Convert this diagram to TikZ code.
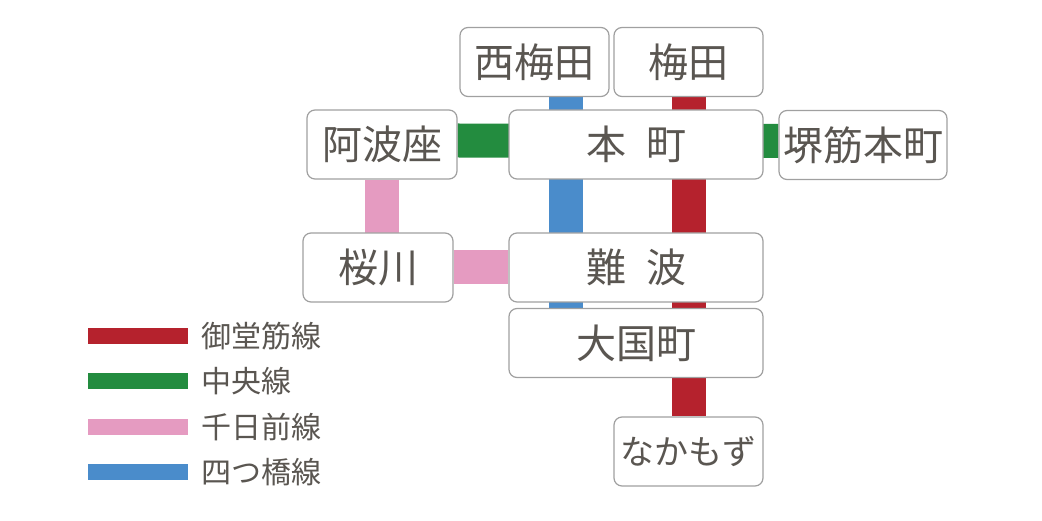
\documentclass[tikz,border=0pt]{standalone}
\usepackage{fontspec}
\newfontfamily\jpfont{Noto Sans CJK JP}
\usetikzlibrary{positioning,backgrounds}
\definecolor{midosuji}{HTML}{B5222D}
\definecolor{chuo}{HTML}{238C3F}
\definecolor{sennichimae}{HTML}{E59BC1}
\definecolor{yotsubashi}{HTML}{4A8CCB}
\definecolor{inkgray}{HTML}{5A5651}
\definecolor{boxgray}{HTML}{A0A0A0}
\begin{document}
\begin{tikzpicture}[x=1pt,y=-1pt,
  station/.style={draw=boxgray, line width=1.2pt, rounded corners=8pt, fill=white,
    text=inkgray, minimum height=69pt, inner sep=0pt, font=\jpfont\fontsize{40}{40}\selectfont},
  route/.style={line width=34pt},
  legbar/.style={minimum width=100pt, minimum height=16pt, inner sep=0pt},
  legtext/.style={text=inkgray, inner sep=0pt, font=\jpfont\fontsize{30}{30}\selectfont}]
\useasboundingbox (0,0) rectangle (1042,521);
% stations
\node[station, minimum width=149pt] (nishiumeda) at (534.5,62) {西梅田};
\node[station, minimum width=149pt] (umeda) at (688.5,62) {梅田};
\node[station, minimum width=150pt] (awaza) at (382,144.5) {阿波座};
\node[station, minimum width=254pt] (honmachi) at (636,144.5) {本\hspace{.5em}町};
\node[station, minimum width=168pt] (sakaisuji) at (863,145) {堺筋本町};
\node[station, minimum width=150pt] (sakuragawa) at (378,267.5) {桜川};
\node[station, minimum width=254pt] (namba) at (636,267.5) {難\hspace{.5em}波};
\node[station, minimum width=254pt] (daikokucho) at (636,343) {大国町};
\node[station, minimum width=149pt, font=\jpfont\fontsize{34}{34}\selectfont] (nakamozu) at (688.5,451.5) {なかもず};
% lines
\begin{scope}[on background layer]
\draw[route, yotsubashi] ([xshift=31.5pt]nishiumeda.south) -- ([xshift=-70pt]daikokucho.north);
\draw[route, midosuji] (umeda) -- (nakamozu);
\draw[route, chuo] ([yshift=4pt]awaza.east) -- ([yshift=4pt]sakaisuji.west);
\draw[route, sennichimae] (awaza) -- (awaza |- sakuragawa);
\draw[route, sennichimae] (sakuragawa) -- (namba);
\end{scope}
% legend
\foreach \lname/\lcol [count=\i] in {御堂筋線/midosuji, 中央線/chuo, 千日前線/sennichimae, 四つ橋線/yotsubashi}{
  \node[legbar, fill=\lcol] (bar\i) at (138,{336+45.3*(\i-1)}) {};
  \node[legtext, right=13pt of bar\i] (leg\i) {\lname};
}
\end{tikzpicture}
\end{document}
